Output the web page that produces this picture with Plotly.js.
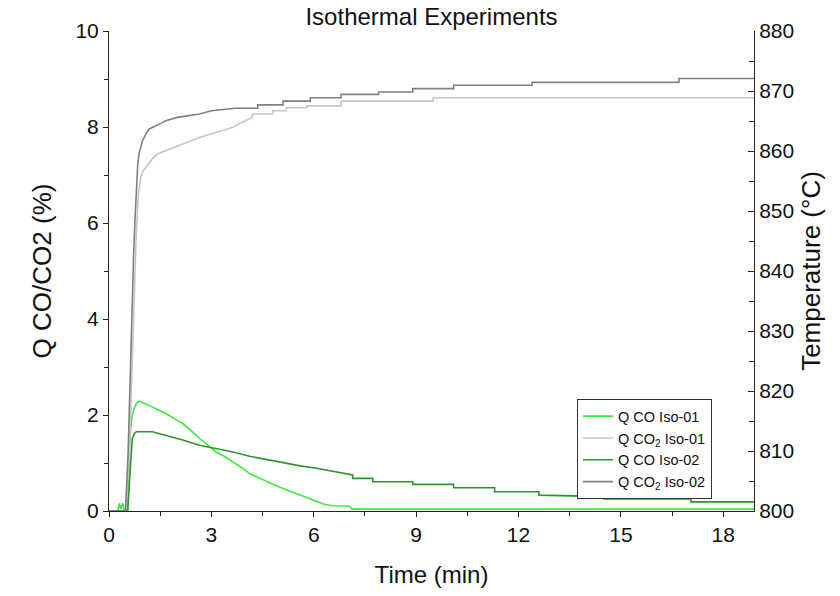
<!DOCTYPE html>
<html>
<head>
<meta charset="utf-8">
<script src="https://cdn.plot.ly/plotly-3.0.1.min.js"></script>
<style>html,body{margin:0;padding:0;background:#fff;}#chart{width:840px;height:596px;}</style>
</head>
<body>
<div id="chart"></div>
<script>
// Time (min) and Q values (%)
var coIso01X = [0, 0.26, 0.30, 0.35, 0.40, 0.45, 0.53, 0.58, 0.62, 0.66, 0.70, 0.76, 0.82, 0.88, 1.00, 1.18, 1.40, 1.67, 1.90, 2.16, 2.40, 2.65, 2.90, 3.14, 3.40, 3.63, 3.90, 4.12, 4.40, 4.60, 4.85, 5.10, 5.35, 5.60, 5.85, 6.08, 6.30, 6.57, 6.80, 7.05, 7.12, 18.9];
var coIso01Y = [0, 0, 0.16, 0.04, 0.16, 0.0, 0.0, 0.9, 1.6, 1.9, 2.05, 2.18, 2.25, 2.29, 2.26, 2.20, 2.12, 2.03, 1.93, 1.82, 1.68, 1.51, 1.37, 1.23, 1.13, 1.03, 0.90, 0.78, 0.69, 0.61, 0.54, 0.47, 0.40, 0.33, 0.26, 0.19, 0.14, 0.11, 0.11, 0.10, 0.04, 0.04];

var co2Iso01X = [0, 0.50, 0.58, 0.66, 0.74, 0.80, 0.86, 0.93, 1.00, 1.08, 1.25, 1.42, 1.67, 2.06, 2.35, 2.65, 3.10, 3.62, 3.90, 4.20, 4.20, 4.80, 4.80, 5.20, 5.20, 5.80, 5.80, 6.80, 6.80, 9.50, 9.50, 18.9];
var co2Iso01Y = [0, 0, 0.8, 2.7, 4.6, 5.8, 6.6, 6.95, 7.09, 7.16, 7.32, 7.44, 7.51, 7.61, 7.69, 7.78, 7.88, 7.99, 8.10, 8.20, 8.27, 8.27, 8.34, 8.34, 8.40, 8.40, 8.44, 8.44, 8.54, 8.54, 8.61, 8.61];

var coIso02X = [0, 0.55, 0.60, 0.64, 0.68, 0.75, 0.80, 1.27, 1.67, 2.16, 2.65, 3.14, 3.63, 4.12, 4.60, 5.10, 5.60, 6.08, 6.57, 7.14, 7.14, 7.73, 7.73, 8.90, 8.90, 10.10, 10.10, 11.30, 11.30, 12.60, 12.60, 14.50, 14.50, 17.05, 17.05, 18.9];
var coIso02Y = [0, 0, 0.6, 1.2, 1.5, 1.62, 1.65, 1.65, 1.58, 1.48, 1.37, 1.30, 1.23, 1.14, 1.07, 1.00, 0.94, 0.89, 0.82, 0.75, 0.68, 0.68, 0.61, 0.61, 0.555, 0.555, 0.485, 0.485, 0.40, 0.40, 0.33, 0.30, 0.25, 0.25, 0.19, 0.19];

var co2Iso02X = [0, 0.48, 0.56, 0.62, 0.67, 0.72, 0.76, 0.80, 0.84, 0.88, 0.98, 1.10, 1.18, 1.47, 1.67, 2.00, 2.65, 3.00, 3.70, 4.36, 4.36, 5.10, 5.10, 5.90, 5.90, 6.80, 6.80, 7.90, 7.90, 8.90, 8.90, 10.10, 10.10, 12.40, 12.40, 16.70, 16.70, 18.9];
var co2Iso02Y = [0, 0, 1.2, 2.9, 4.3, 5.3, 6.05, 6.8, 7.2, 7.44, 7.71, 7.88, 7.96, 8.06, 8.13, 8.20, 8.27, 8.34, 8.39, 8.39, 8.46, 8.46, 8.54, 8.54, 8.61, 8.61, 8.68, 8.68, 8.73, 8.73, 8.80, 8.80, 8.87, 8.87, 8.93, 8.93, 9.01, 9.01];

var names = ['Q CO Iso-01', 'Q CO<sub>2</sub> Iso-01', 'Q CO Iso-02', 'Q CO<sub>2</sub> Iso-02'];
var xTicks = [0, 3, 6, 9, 12, 15, 18];
var qTicks = [0, 2, 4, 6, 8, 10];
var tempTicks = [800, 810, 820, 830, 840, 850, 860, 870, 880];

var colors = ['#3fe83f', '#c6c6c6', '#2b962b', '#808080'];
var xs = [coIso01X, co2Iso01X, coIso02X, co2Iso02X];
var ys = [coIso01Y, co2Iso01Y, coIso02Y, co2Iso02Y];

var data = [];
for (var i = 0; i < 4; i++) {
  data.push({
    x: xs[i], y: ys[i], type: 'scatter', mode: 'lines', name: names[i],
    line: {color: colors[i], width: 1.6, shape: 'linear'}, xaxis: 'x', yaxis: 'y'
  });
}
// helper so the temperature axis is drawn
data.push({x: [null], y: [null], type: 'scatter', mode: 'lines', yaxis: 'y2', showlegend: false, hoverinfo: 'skip'});

var font = 'Liberation Sans, Arial, sans-serif';
var layout = {
  width: 840, height: 596,
  margin: {l: 109, r: 86, t: 31, b: 85},
  paper_bgcolor: '#fff', plot_bgcolor: '#fff',
  font: {family: font, color: '#111', size: 21},
  showlegend: true,
  title: {text: 'Isothermal Experiments', font: {family: font, size: 24, color: '#111'},
          x: 0.5, xref: 'paper', xanchor: 'center', y: 0.972, yref: 'container', yanchor: 'middle'},
  xaxis: {
    range: [0, 18.9], tickvals: xTicks, ticktext: xTicks.map(String),
    showgrid: false, zeroline: false, showline: true, linecolor: '#222', linewidth: 1,
    ticks: 'outside', ticklen: 5, tickcolor: '#222',
    minor: {dtick: 1.5, tick0: 0, ticks: 'outside', ticklen: 4, tickcolor: '#222', showgrid: false},
    tickfont: {size: 21},
    title: {text: 'Time (min)', font: {size: 24}, standoff: 20},
    automargin: false
  },
  yaxis: {
    range: [0, 10], tickvals: qTicks, ticktext: qTicks.map(String),
    showgrid: false, zeroline: false, showline: true, linecolor: '#222', linewidth: 1,
    ticks: 'outside', ticklen: 5, tickcolor: '#222',
    minor: {dtick: 1, tick0: 0, ticks: 'outside', ticklen: 4, tickcolor: '#222', showgrid: false},
    tickfont: {size: 21},
    title: {text: 'Q CO/CO2 (%)', font: {size: 26}, standoff: 16},
    automargin: false
  },
  yaxis2: {
    overlaying: 'y', side: 'right', range: [800, 880],
    tickvals: tempTicks, ticktext: tempTicks.map(String),
    showgrid: false, zeroline: false, showline: true, linecolor: '#222', linewidth: 1,
    ticks: 'inside', ticklen: 6, tickcolor: '#222',
    minor: {dtick: 5, tick0: 800, ticks: 'inside', ticklen: 5, tickcolor: '#222', showgrid: false},
    tickfont: {size: 21},
    title: {text: 'Temperature (°C)', font: {size: 26}, standoff: 8},
    automargin: false
  },
  legend: {
    x: 0.7256, y: 0.233, xanchor: 'left', yanchor: 'top',
    bgcolor: '#fff', bordercolor: '#333', borderwidth: 1,
    font: {family: font, size: 14.5, color: '#111'},
    tracegroupgap: 0
  }
};

Plotly.newPlot('chart', data, layout, {displayModeBar: false, staticPlot: true});
</script>
</body>
</html>
